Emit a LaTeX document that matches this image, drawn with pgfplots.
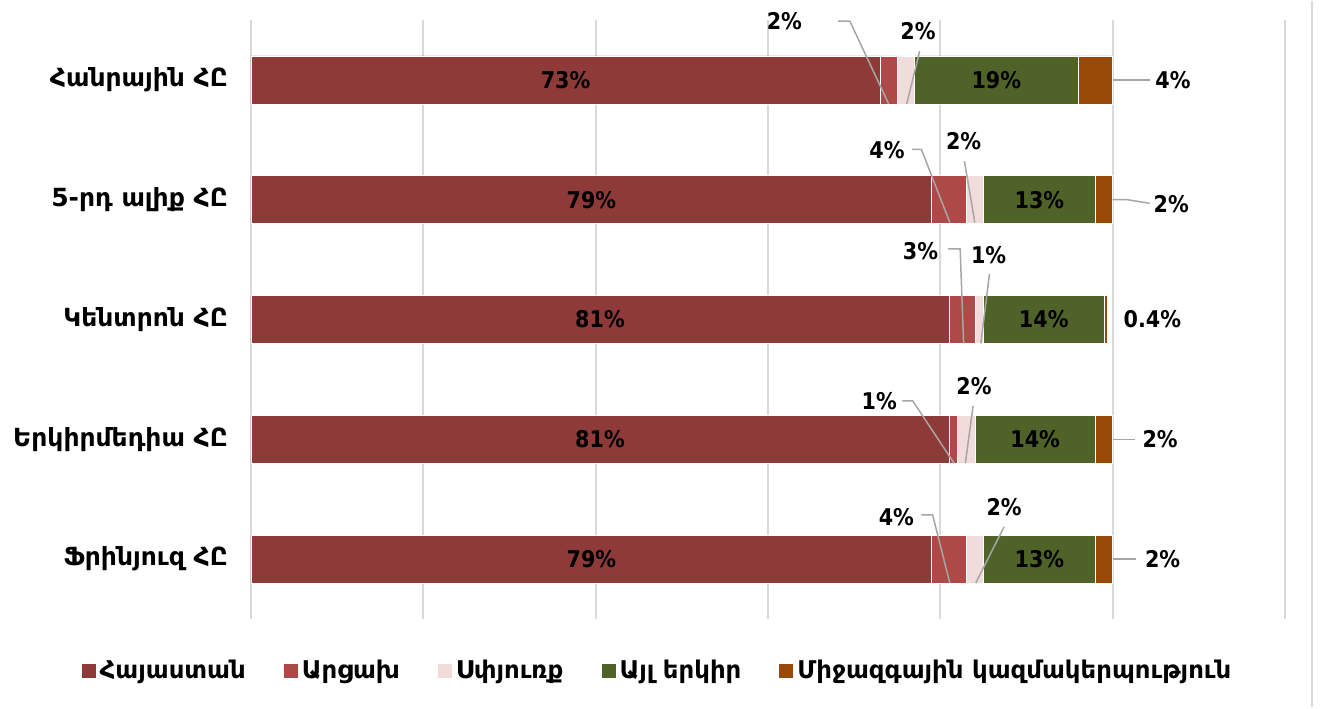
\documentclass[border=0pt]{standalone}
\usepackage{pgfplots}
\pgfplotsset{compat=1.18}
\usepackage{pgfplotstable}
\usepackage{fontspec}
\setmainfont{DejaVu Sans Condensed}
\newfontfamily\wide{DejaVu Sans}

\definecolor{cArm}{RGB}{142,58,57}
\definecolor{cArt}{RGB}{173,74,72}
\definecolor{cDia}{RGB}{242,220,219}
\definecolor{cOth}{RGB}{79,98,40}
\definecolor{cInt}{RGB}{152,72,7}
\definecolor{cGrid}{RGB}{217,217,217}
\definecolor{cLead}{RGB}{166,166,166}

\newcommand\dlfont{\bfseries\fontsize{11.5}{13}\selectfont}

\pgfplotsset{frame/.style={
    scale only axis,
    width=517pt, height=299.5pt,
    xmin=0, xmax=120,
    ymin=-0.5, ymax=4.5,
}}

% shares in %, rows bottom (0) to top (4)
\pgfplotstableread{
y  arm art dia oth int
0  79  4   2   13  2
1  81  1   2   14  2
2  81  3   1   14  0.4
3  79  4   2   13  2
4  73  2   2   19  4
}\sharetab

\begin{document}
\begin{tikzpicture}
\begin{axis}[
    frame,
    xbar stacked,
    bar width=24pt,
    xtick={0,20,...,120},
    xticklabels={},
    xmajorgrids,
    grid style={cGrid, line width=1pt},
    ytick={0,1,2,3,4},
    yticklabels={Ֆրինյուզ ՀԸ, Երկիրմեդիա ՀԸ, Կենտրոն ՀԸ, 5-րդ ալիք ՀԸ, Հանրային ՀԸ},
    yticklabel style={font=\wide\bfseries\fontsize{12.5}{14}\selectfont, xshift=-8pt},
    axis line style={draw=none},
    major tick length=0pt,
    legend columns=5,
    legend style={at={(0.394,-0.087)}, anchor=center, draw=none,
        font=\wide\bfseries\fontsize{12.2}{14}\selectfont,
        /tikz/every even column/.append style={column sep=17pt},
        /tikz/every odd column/.append style={column sep=0pt},
        /tikz/every node/.append style={inner xsep=2pt}},
    legend image code/.code={\path[#1, draw=none] (0pt,-3.5pt) rectangle (7pt,3.5pt);},
]
\addplot[fill=cArm, draw=white, line width=0.3pt] table[x=arm, y=y] {\sharetab};
\addplot[fill=cArt, draw=white, line width=0.3pt] table[x=art, y=y] {\sharetab};
\addplot[fill=cDia, draw=white, line width=0.3pt] table[x=dia, y=y] {\sharetab};
\addplot[fill=cOth, draw=white, line width=0.3pt] table[x=oth, y=y] {\sharetab};
\addplot[fill=cInt, draw=white, line width=0.3pt] table[x=int, y=y] {\sharetab};
\legend{Հայաստան, Արցախ, Սփյուռք, Այլ երկիր, Միջազգային կազմակերպություն}
\end{axis}

% overlay axis for data labels and callouts
\begin{axis}[frame, hide axis, clip=false]
\node[font=\dlfont] at (36.5,4) {73\%};
\node[font=\dlfont] at (86.5,4) {19\%};
\node[font=\dlfont] at (39.5,3) {79\%};
\node[font=\dlfont] at (91.5,3) {13\%};
\node[font=\dlfont] at (40.5,2) {81\%};
\node[font=\dlfont] at (92,2) {14\%};
\node[font=\dlfont] at (40.5,1) {81\%};
\node[font=\dlfont] at (91,1) {14\%};
\node[font=\dlfont] at (39.5,0) {79\%};
\node[font=\dlfont] at (91.5,0) {13\%};

\draw[cLead, line width=0.75pt] (68.1,4.49) -- (69.5,4.49) -- (74.0,3.8);
\draw[cLead, line width=0.75pt] (77.6,4.24) -- (76.1,3.8);
\draw[cLead, line width=0.75pt] (100,4) -- (104.3,4);
\draw[cLead, line width=0.75pt] (76.7,3.42) -- (77.8,3.42) -- (81.1,2.81);
\draw[cLead, line width=0.75pt] (82.8,3.32) -- (84.0,2.81);
\draw[cLead, line width=0.75pt] (100,3) -- (101.7,3) -- (104.3,2.97);
\draw[cLead, line width=0.75pt] (80.9,2.59) -- (82.3,2.59) -- (82.7,1.8);
\draw[cLead, line width=0.75pt] (85.7,2.38) -- (84.7,1.8);
\draw[cLead, line width=0.75pt] (75.6,1.32) -- (76.8,1.32) -- (81.6,0.8);
\draw[cLead, line width=0.75pt] (83.8,1.28) -- (82.9,0.8);
\draw[cLead, line width=0.75pt] (100,1) -- (102.6,1);
\draw[cLead, line width=0.75pt] (77.8,0.37) -- (79.1,0.37) -- (81.1,-0.2);
\draw[cLead, line width=0.75pt] (87.4,0.27) -- (84.1,-0.2);
\draw[cLead, line width=0.75pt] (100,0) -- (102.7,0);
\node[font=\dlfont] at (61.9,4.49) {2\%};
\node[font=\dlfont] at (77.4,4.41) {2\%};
\node[font=\dlfont] at (107.0,4) {4\%};
\node[font=\dlfont] at (73.8,3.41) {4\%};
\node[font=\dlfont] at (82.7,3.49) {2\%};
\node[font=\dlfont] at (106.8,2.96) {2\%};
\node[font=\dlfont] at (77.7,2.57) {3\%};
\node[font=\dlfont] at (85.6,2.54) {1\%};
\node[font=\dlfont] at (104.6,2) {0.4\%};
\node[font=\dlfont] at (72.9,1.32) {1\%};
\node[font=\dlfont] at (83.9,1.44) {2\%};
\node[font=\dlfont] at (105.5,1) {2\%};
\node[font=\dlfont] at (74.9,0.35) {4\%};
\node[font=\dlfont] at (87.4,0.43) {2\%};
\node[font=\dlfont] at (105.8,0) {2\%};
\end{axis}
\draw[cGrid, line width=1pt] (530.5pt,-44pt) -- (530.5pt,309pt);
\path (-125.5pt,-44pt) rectangle (534.5pt,309pt);
\end{tikzpicture}
\end{document}
